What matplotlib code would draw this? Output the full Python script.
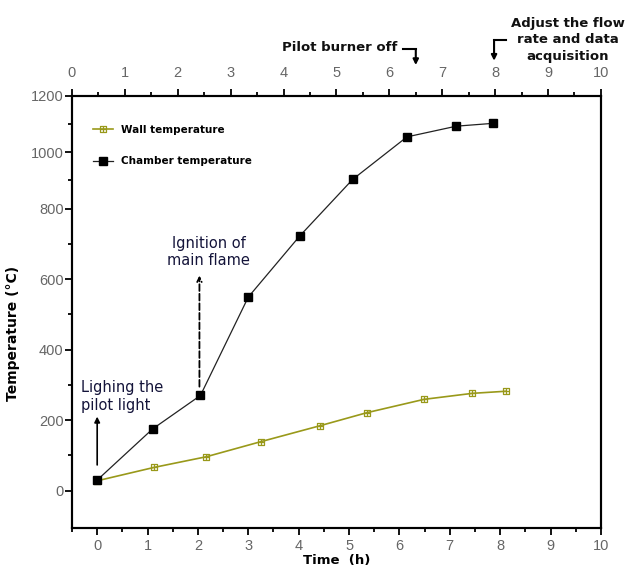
import numpy as np
import matplotlib
matplotlib.use('Agg')
import matplotlib.pyplot as plt
from matplotlib.path import Path
from matplotlib.ticker import MultipleLocator, FixedLocator

# Data
chamber_time = [0.0, 1.1, 2.05, 3.0, 4.02, 5.07, 6.15, 7.13, 7.86]
chamber_temp = [30, 175, 270, 549, 722, 903, 1054, 1092, 1102]
wall_time = [0.0, 1.13, 2.16, 3.25, 4.42, 5.35, 6.49, 7.45, 8.12]
wall_temp = [28, 66, 96, 139, 184, 221, 259, 276, 282]

y_major = [0, 200, 400, 600, 800, 1000, 1200]
y_minor = [100, 300, 500, 700, 900, 1100]

WALL_COLOR = '#99991a'
TEXT_COLOR = '#14143a'
TICK_COLOR = '#666666'


# The y axis of the original is squeezed above 800
def fwd(y):
    y = np.asarray(y, dtype=float)
    return np.where(y <= 800, y, 800 + (y - 800) * 0.8)


def inv(v):
    v = np.asarray(v, dtype=float)
    return np.where(v <= 800, v, 800 + (v - 800) / 0.8)


# square with a cross inside, like the wall marker
box_cross = Path(
    [(-1, -1), (1, -1), (1, 1), (-1, 1), (-1, -1), (0, -1), (0, 1), (-1, 0), (1, 0)],
    [Path.MOVETO, Path.LINETO, Path.LINETO, Path.LINETO, Path.CLOSEPOLY,
     Path.MOVETO, Path.LINETO, Path.MOVETO, Path.LINETO])

fig = plt.figure(figsize=(6.28, 5.70), dpi=100)
ax = fig.add_axes([72 / 628, 1 - 527.7 / 570, 528.9 / 628, 432 / 570])

ax.plot(wall_time, wall_temp, color=WALL_COLOR, lw=1.2, marker=box_cross,
        markersize=5, markerfacecolor='none', markeredgecolor=WALL_COLOR,
        markeredgewidth=0.9, label='Wall temperature')
ax.plot(chamber_time, chamber_temp, color='#222222', lw=0.9, marker='s',
        markersize=6, markerfacecolor='black', markeredgecolor='black',
        label='Chamber temperature')

ax.set_yscale('function', functions=(fwd, inv))
ax.set_ylim(-105, 1200)
ax.set_xlim(-0.5, 10)
ax.yaxis.set_major_locator(FixedLocator(y_major))
ax.yaxis.set_minor_locator(FixedLocator(y_minor))
ax.xaxis.set_major_locator(MultipleLocator(1))
ax.xaxis.set_minor_locator(MultipleLocator(0.5))

for s in ax.spines.values():
    s.set_linewidth(1.5)

ax.tick_params(which='both', direction='out', width=1.3, colors='black',
               labelcolor=TICK_COLOR, labelsize=10.5,
               labelfontfamily='Liberation Sans')
ax.tick_params(which='major', length=5)
ax.tick_params(which='minor', length=3)
ax.tick_params(axis='x', pad=3)
ax.tick_params(axis='y', pad=1)

ax.set_xlabel('Time  (h)', fontsize=9.5, fontweight='bold', labelpad=0)
ax.set_ylabel('Temperature (°C)', fontsize=10, fontweight='bold')
ax.yaxis.set_label_coords(-0.098, 0.45)
ax.xaxis.set_label_coords(0.5, -0.062)

# top axis 0-10
ax2 = ax.twiny()
ax2.set_xlim(0, 10)
ax2.xaxis.set_major_locator(MultipleLocator(1))
ax2.xaxis.set_minor_locator(MultipleLocator(0.5))
ax2.tick_params(which='both', direction='out', width=1.3,
                labelcolor=TICK_COLOR, labelsize=10.5,
                labelfontfamily='Liberation Sans', pad=6)
ax2.tick_params(which='major', length=5)
ax2.tick_params(which='minor', length=3)
for s in ax2.spines.values():
    s.set_linewidth(1.5)

leg = ax.legend(loc='upper left', bbox_to_anchor=(0.04, 0.932), frameon=False,
                prop={'weight': 'bold', 'size': 7.5}, handlelength=1.9,
                handletextpad=0.8, labelspacing=2.05, borderpad=0,
                borderaxespad=0)

# annotations inside the plot
ax.annotate('', xy=(0, 210), xytext=(0, 73),
            arrowprops=dict(arrowstyle='-|>', color='black', lw=1.2,
                            mutation_scale=8, shrinkA=0, shrinkB=0))
ax.text(-0.33, 267, 'Lighing the\npilot light', ha='left', va='center',
        fontsize=10.5, color=TEXT_COLOR, linespacing=1.2)

ax.annotate('', xy=(2.03, 610), xytext=(2.03, 295),
            arrowprops=dict(arrowstyle='->', color='black', lw=1.3,
                            linestyle='--', mutation_scale=8,
                            shrinkA=0, shrinkB=0))
ax.text(2.21, 677, 'Ignition of\nmain flame', ha='center', va='center',
        fontsize=10.5, color=TEXT_COLOR, linespacing=1.2)

# annotations above the top axis
top = ('data', 'axes fraction')
ax2.text(6.16, 1.111, 'Pilot burner off', ha='right', va='center',
         fontsize=9.5, fontweight='bold', color='#111111',
         transform=ax2.get_xaxis_transform())
ax2.plot([6.25, 6.5], [1.108, 1.108], color='black', lw=1.5,
         transform=ax2.get_xaxis_transform(), clip_on=False)
ax2.annotate('', xy=(6.5, 1.071), xycoords=top, xytext=(6.5, 1.108),
             textcoords=top,
             arrowprops=dict(arrowstyle='-|>', color='black', lw=1.5,
                             mutation_scale=8, shrinkA=0, shrinkB=0))

ax2.text(9.37, 1.13, 'Adjust the flow\nrate and data\nacquisition',
         ha='center', va='center', multialignment='center', fontsize=9.5,
         fontweight='bold', color='#111111', linespacing=1.35,
         transform=ax2.get_xaxis_transform())
ax2.plot([7.98, 8.21], [1.129, 1.129], color='black', lw=1.5,
         transform=ax2.get_xaxis_transform(), clip_on=False)
ax2.annotate('', xy=(7.98, 1.081), xycoords=top, xytext=(7.98, 1.129),
             textcoords=top,
             arrowprops=dict(arrowstyle='-|>', color='black', lw=1.5,
                             mutation_scale=8, shrinkA=0, shrinkB=0))

fig.savefig('out.png', dpi=100)
